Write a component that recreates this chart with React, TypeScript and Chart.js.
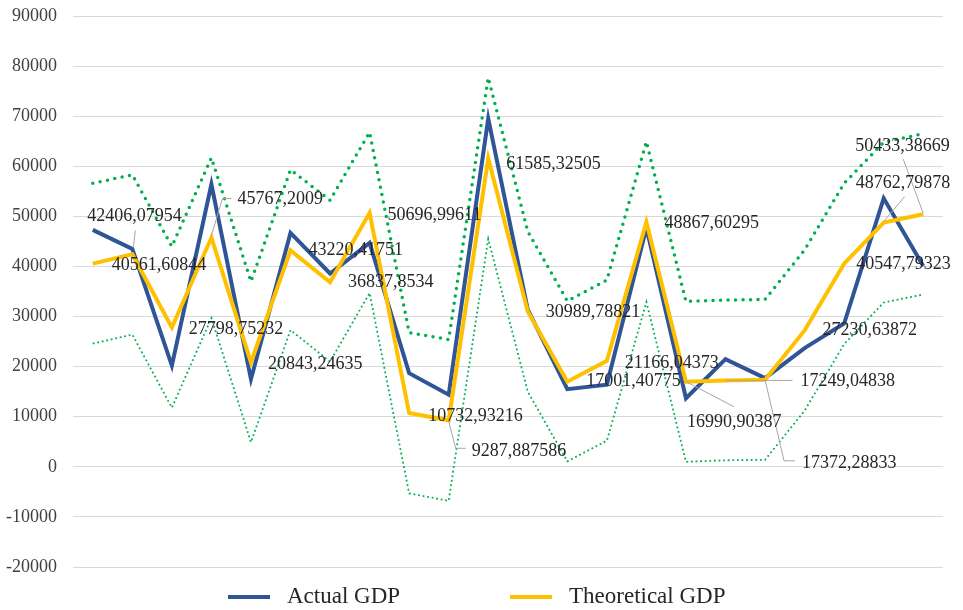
import { useEffect, useRef } from "react";
import { Chart, registerables } from "chart.js";

Chart.register(...registerables);

const categories = ["1", "2", "3", "4", "5", "6", "7", "8", "9", "10", "11", "12", "13", "14", "15", "16", "17", "18", "19", "20", "21", "22"];

const actualGDP = [47300, 43500, 20200, 56400, 17500, 46700, 38600, 44700, 18700, 14400, 69500, 31400, 15500, 16400, 47700, 13700, 21500, 17700, 23700, 28600, 53600, 40100];

const theoreticalGDP = [40561.60844, 42406.07954, 27798.75232, 45767.2009, 20843.24635, 43220.41751, 36837.8534, 50696.99611, 10732.93216, 9287.887586, 61585.32505, 30989.78821, 17001.40775, 21166.04373, 48867.60295, 16990.90387, 17249.04838, 17372.28833, 27230.63872, 40547.79323, 48762.79878, 50433.38669];

const upperBound = [56600, 58300, 44000, 61700, 37000, 59300, 53200, 66800, 26800, 25400, 77700, 47000, 33100, 37300, 64900, 33000, 33300, 33400, 43300, 56600, 64800, 66500];

const lowerBound = [24600, 26400, 11800, 29700, 4900, 27300, 21000, 34700, -5300, -6800, 45500, 15000, 1100, 5200, 32900, 1000, 1300, 1400, 11200, 24500, 32800, 34400];

const yMin = -20000;
const yMax = 90000;
const yStep = 10000;

const legendNames = ["Actual GDP", "Theoretical GDP"];

// label placement (offset of text left/middle from the point), styling only
const labelOffsets: [number, number][] = [
  [19, 2], [-45, -38], [17, 2], [26, -38], [17, 2], [18, 0], [18, 0], [18, 2],
  [19, 3], [23, 31], [18, 6], [18, 1], [19, 0], [18, 2], [18, 1], [1, 41],
  [75, 1], [37, 83], [18, 0], [12, 1], [-28, -39], [-68, -68],
];

// leader lines (relative to the point), styling only
const leaderLines: Record<number, [number, number][]> = {
  1: [[1, -7], [3, -24]],
  3: [[0, -2], [11, -39], [20, -39]],
  9: [[0, 1], [7, 28], [17, 28]],
  15: [[0, 0], [48, 25]],
  16: [[0, 0], [67, 0]],
  17: [[0, 0], [19, 81], [30, 81]],
  20: [[0, -1], [21, -26]],
  21: [[0, -1], [-20, -55]],
};

const BLUE = "#2F5597";
const YELLOW = "#FFC000";
const GREEN = "#00B050";
const FONT = "'Liberation Serif', 'Times New Roman', serif";

const fmt = (v: number) => String(v).replace(".", ",");

export default function App() {
  const ref = useRef<HTMLCanvasElement | null>(null);

  useEffect(() => {
    if (!ref.current) return;

    const labelPlugin = {
      id: "theoLabels",
      afterDatasetsDraw(chart: any) {
        const ctx = chart.ctx;
        const meta = chart.getDatasetMeta(1);
        ctx.save();
        ctx.strokeStyle = "#A6A6A6";
        ctx.lineWidth = 1;
        meta.data.forEach((pt: any, i: number) => {
          const ll = leaderLines[i];
          if (!ll) return;
          ctx.beginPath();
          ll.forEach(([dx, dy], k) => {
            const x = pt.x + dx;
            const y = pt.y + dy;
            if (k === 0) ctx.moveTo(x, y);
            else ctx.lineTo(x, y);
          });
          ctx.stroke();
        });
        ctx.font = `18px ${FONT}`;
        ctx.fillStyle = "#262626";
        ctx.textAlign = "left";
        ctx.textBaseline = "middle";
        meta.data.forEach((pt: any, i: number) => {
          const [dx, dy] = labelOffsets[i];
          ctx.fillText(fmt(theoreticalGDP[i]), pt.x + dx, pt.y + dy);
        });
        ctx.restore();
      },
      afterDraw(chart: any) {
        const ctx = chart.ctx;
        const y = 597;
        const items = [
          { color: BLUE, x: 228, name: legendNames[0] },
          { color: YELLOW, x: 510, name: legendNames[1] },
        ];
        ctx.save();
        ctx.font = `23px ${FONT}`;
        ctx.textBaseline = "middle";
        ctx.textAlign = "left";
        items.forEach((it) => {
          ctx.strokeStyle = it.color;
          ctx.lineWidth = 4;
          ctx.beginPath();
          ctx.moveTo(it.x, y);
          ctx.lineTo(it.x + 42, y);
          ctx.stroke();
          ctx.fillStyle = "#262626";
          ctx.fillText(it.name, it.x + 59, y);
        });
        ctx.restore();
      },
    };

    const chart = new Chart(ref.current, {
      type: "line",
      data: {
        labels: categories,
        datasets: [
          {
            label: legendNames[0],
            data: actualGDP,
            borderColor: BLUE,
            backgroundColor: BLUE,
            borderWidth: 4,
            pointRadius: 0,
            tension: 0,
            order: 1,
          },
          {
            label: legendNames[1],
            data: theoreticalGDP,
            borderColor: YELLOW,
            backgroundColor: YELLOW,
            borderWidth: 4,
            pointRadius: 0,
            tension: 0,
            order: 0,
          },
          {
            label: "Upper",
            data: upperBound,
            borderColor: GREEN,
            borderWidth: 3.5,
            borderDash: [0, 7.5],
            borderCapStyle: "round",
            pointRadius: 0,
            tension: 0,
            order: 2,
          },
          {
            label: "Lower",
            data: lowerBound,
            borderColor: GREEN,
            borderWidth: 1.8,
            borderDash: [1.8, 2.8],
            pointRadius: 0,
            tension: 0,
            order: 3,
          },
        ],
      },
      options: {
        animation: false,
        responsive: true,
        maintainAspectRatio: false,
        layout: { padding: { top: 16, right: 20, bottom: 43, left: 0 } },
        plugins: {
          legend: { display: false },
          tooltip: { enabled: false },
        },
        scales: {
          x: {
            display: false,
            offset: true,
          },
          y: {
            min: yMin,
            max: yMax,
            afterFit: (scale: any) => {
              scale.width = 73;
            },
            border: { display: false },
            grid: {
              color: "#D9D9D9",
              lineWidth: 1,
              drawTicks: true,
              tickLength: 16,
              tickColor: "rgba(0,0,0,0)",
            },
            ticks: {
              stepSize: yStep,
              padding: 0,
              color: "#404040",
              font: { family: FONT, size: 18 },
              callback: (v: any) => String(v),
            },
          },
        },
      },
      plugins: [labelPlugin],
    });

    return () => chart.destroy();
  }, []);

  return (
    <div style={{ position: "fixed", left: 0, top: 0, width: 963, height: 610, background: "#fff" }}>
      <canvas ref={ref} />
    </div>
  );
}
